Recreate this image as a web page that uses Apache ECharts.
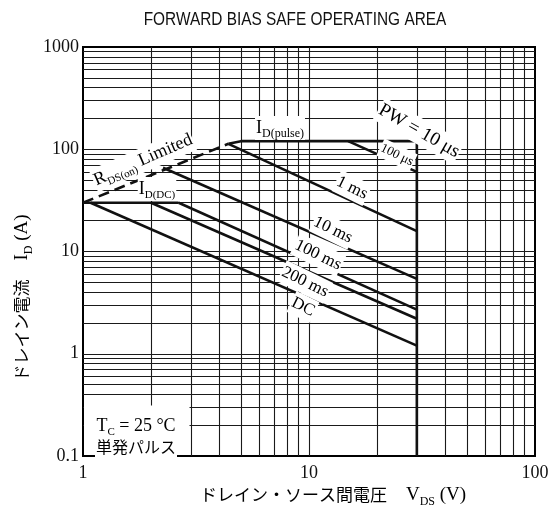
<!DOCTYPE html>
<html><head><meta charset="utf-8">
<script src="https://cdn.jsdelivr.net/npm/echarts@6/dist/echarts.min.js"></script>
<style>html,body{margin:0;padding:0;background:#fff}#c{width:553px;height:516px}</style>
</head><body><div id="c"></div>
<script>
// ---- axis ticks ----
const xTickLabels = ['1', '10', '100'];
const yTickLabels = ['0.1', '1', '10', '100', '1000'];
const gridLinesX = [2,3,4,5,6,7,8,9,10,20,30,40,50,60,70,80,90];
const gridLinesY = [0.2,0.3,0.4,0.5,0.6,0.7,0.8,0.9,1,2,3,4,5,6,7,8,9,10,20,30,40,50,60,70,80,90,100,200,300,400,500,600,700,800,900];

// ---- curves (V_DS [V], I_D [A]) ----
const rdsLimitV = [1, 4.4];
const rdsLimitI = [30, 113];
const pw10usV = [4.4, 5, 30, 30];
const pw10usI = [113, 120, 120, 0.1];
const pw100usV = [14.9, 30];
const pw100usI = [120, 60];
const pw1msV = [4.4, 30];
const pw1msI = [113, 15.8];
const pw10msV = [2.26, 30];
const pw10msI = [66, 5.4];
const idDcV = [1, 2.65];
const idDcI = [30, 30];
const pw100msV = [2.65, 30];
const pw100msI = [30, 2.7];
const pw200msV = [2.0, 30];
const pw200msI = [30, 2.2];
const dcV = [1.08, 30];
const dcI = [30, 1.2];

const zip = (a, b) => a.map((v, i) => [v, b[i]]);
const INK = '#111';
const SERIF = 'Liberation Serif, DejaVu Serif, serif';
const JP = 'Noto Sans CJK JP';

function curve(name, V, I, dashed) {
  return {
    name, type: 'line', data: zip(V, I), showSymbol: false, silent: true,
    animation: false, z: 5,
    lineStyle: { color: INK, width: 2.6, type: dashed ? [11, 6] : 'solid' }
  };
}

const series = [
  curve('RDS(on) Limited', rdsLimitV, rdsLimitI, true),
  curve('10us', pw10usV, pw10usI),
  curve('100us', pw100usV, pw100usI),
  curve('1ms', pw1msV, pw1msI),
  curve('10ms', pw10msV, pw10msI),
  curve('ID(DC)', idDcV, idDcI),
  curve('100ms', pw100msV, pw100msI),
  curve('200ms', pw200msV, pw200msI),
  curve('DC', dcV, dcI)
];
series.push({
  type: 'line', data: [], silent: true, animation: false, z: 1,
  markLine: {
    silent: true, animation: false, symbol: ['none', 'none'],
    label: { show: false },
    lineStyle: { color: '#1a1a1a', width: 1.1, type: 'solid' },
    data: gridLinesX.map(v => ({ xAxis: v })).concat(gridLinesY.map(v => ({ yAxis: v })))
  }
});

const chart = echarts.init(document.getElementById('c'), null, { renderer: 'canvas' });

const subRich = (big, small, jp) => ({
  a: { fontFamily: SERIF, fontSize: big, color: INK, lineHeight: big + 6, verticalAlign: 'middle' },
  b: { fontFamily: SERIF, fontSize: small, color: INK, lineHeight: small + 2, verticalAlign: 'bottom' },
  j: { fontFamily: JP, fontSize: jp || big - 1, color: INK, lineHeight: big + 6, verticalAlign: 'middle' }
});

function label(x, y, deg, text, rich) {
  return {
    type: 'text', x, y, rotation: deg * Math.PI / 180, z: 50, silent: true,
    style: { text, rich, align: 'center', verticalAlign: 'middle', backgroundColor: '#fff', padding: [0, 1] }
  };
}

chart.setOption({
  animation: false,
  grid: { left: 83, top: 47, width: 452, height: 409, show: true, borderColor: '#000', borderWidth: 2, backgroundColor: 'transparent' },
  xAxis: {
    type: 'log', logBase: 10, min: 1, max: 100,
    axisLine: { show: false }, axisTick: { show: false }, splitLine: { show: false },
    axisLabel: { fontFamily: SERIF, fontSize: 18, color: INK, margin: 8,
      formatter: v => xTickLabels[Math.round(Math.log10(v))] }
  },
  yAxis: {
    type: 'log', logBase: 10, min: 0.1, max: 1000,
    axisLine: { show: false }, axisTick: { show: false }, splitLine: { show: false },
    axisLabel: { fontFamily: SERIF, fontSize: 18, color: INK, margin: 4,
      formatter: v => yTickLabels[Math.round(Math.log10(v)) + 1] }
  },
  series,
  graphic: [
    { type: 'text', x: 295, y: 20, z: 50, silent: true, scaleX: 0.88,
      style: { text: 'FORWARD BIAS SAFE OPERATING AREA', fontFamily: 'Liberation Sans, sans-serif',
        fontSize: 17.5, fill: INK, align: 'center', verticalAlign: 'middle' } },
    { type: 'rect', z: 40, silent: true, shape: { x: 84, y: 405.5, width: 105.5, height: 49.5 }, style: { fill: '#fff' } },
    label(136, 426, 0, '{a|T}{b|C}{a| = 25 °C}', subRich(18, 11)),
    label(136, 447, 0, '{j|単発パルス}', subRich(18, 11, 16)),
    label(143, 160, 23.6, '{a|R}{b|DS(on)}{a| Limited}', subRich(18, 11)),
    label(280, 128, 0, '{a|I}{b|D(pulse)}', subRich(18, 12)),
    label(157, 189, 0, '{a|I}{b|D(DC)}', subRich(18, 11)),
    label(419, 131, -29.6, '{a|PW = 10 μs}', subRich(19, 11)),
    label(397, 155, -26, '{a|100 μs}', subRich(13, 9)),
    label(352, 188, -26, '{a|1 ms}', subRich(17, 11)),
    label(333, 230, -26, '{a|10 ms}', subRich(17, 11)),
    label(318, 255, -26, '{a|100 ms}', subRich(17, 11)),
    label(305, 282, -26, '{a|200 ms}', subRich(17, 11)),
    label(303, 307, -26, '{a|DC}', subRich(17, 11)),
    { type: 'text', x: 22, y: 298, rotation: Math.PI / 2, z: 50, silent: true,
      style: { text: '{j|ドレイン電流}{a|　I}{b|D}{a| (A)}', rich: subRich(19, 12, 17), align: 'center', verticalAlign: 'middle' } },
    { type: 'text', x: 333, y: 495, z: 50, silent: true,
      style: { text: '{j|ドレイン・ソース間電圧}{a|　V}{b|DS}{a| (V)}', rich: subRich(19, 12, 17), align: 'center', verticalAlign: 'middle' } }
  ]
});
</script></body></html>
